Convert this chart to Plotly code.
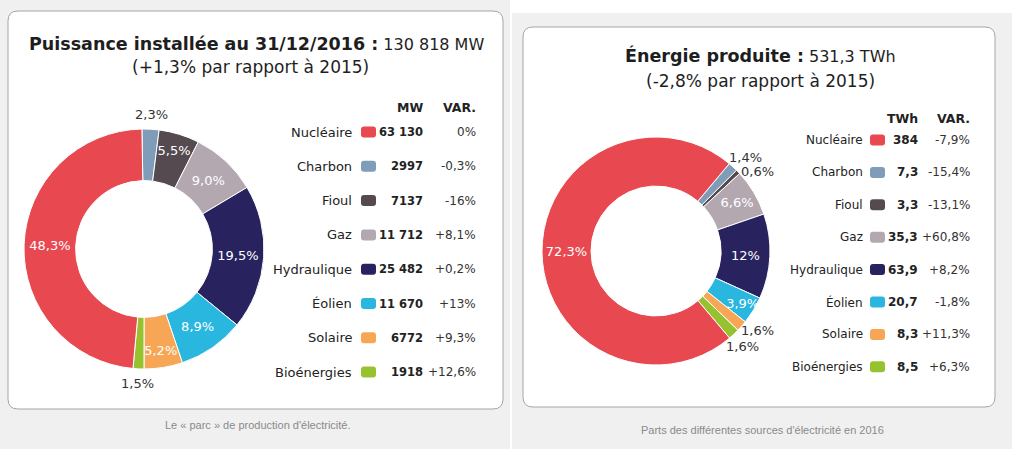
import math
import plotly.graph_objects as go

W, H = 1024, 449

# ---------------- data ----------------
sources = ["Nucléaire", "Charbon", "Fioul", "Gaz", "Hydraulique", "Éolien", "Solaire", "Bioénergies"]
colors = ["#e8484f", "#7f9db8", "#544a4f", "#b4a8b0", "#28235f", "#29b6df", "#f6a654", "#97c230"]

# Puissance installée (MW) au 31/12/2016
mw_values = [63130, 2997, 7137, 11712, 25482, 11670, 6772, 1918]
mw_labels = ["63 130", "2997", "7137", "11 712", "25 482", "11 670", "6772", "1918"]
mw_var = ["0%", "-0,3%", "-16%", "+8,1%", "+0,2%", "+13%", "+9,3%", "+12,6%"]
mw_share = ["48,3%", "2,3%", "5,5%", "9,0%", "19,5%", "8,9%", "5,2%", "1,5%"]

# Énergie produite (TWh) en 2016
twh_values = [384, 7.3, 3.3, 35.3, 63.9, 20.7, 8.3, 8.5]
twh_labels = ["384", "7,3", "3,3", "35,3", "63,9", "20,7", "8,3", "8,5"]
twh_var = ["-7,9%", "-15,4%", "-13,1%", "+60,8%", "+8,2%", "-1,8%", "+11,3%", "+6,3%"]
twh_share = ["72,3%", "1,4%", "0,6%", "6,6%", "12%", "3,9%", "1,6%", "1,6%"]

# ---------------- presentation ----------------
# clockwise drawing order starting after Nucléaire
pie_order = [1, 2, 3, 4, 5, 6, 7, 0]
# labels drawn outside the ring: source index -> angular nudge (degrees)
mw_outside = {1: 0.0, 7: 0.0}
twh_outside = {1: 1.3, 2: 6.0, 6: -3.0, 7: 1.0}

FONT = "DejaVu Sans, Verdana, sans-serif"
CAPFONT = "Liberation Sans Narrow, Arial Narrow, Liberation Sans, sans-serif"


def px(x):
    return x / W


def py(y):
    return 1 - y / H


def rrect(x0, y0, x1, y1, r):
    return (
        f"M {px(x0 + r)},{py(y0)} L {px(x1 - r)},{py(y0)} "
        f"Q {px(x1)},{py(y0)} {px(x1)},{py(y0 + r)} L {px(x1)},{py(y1 - r)} "
        f"Q {px(x1)},{py(y1)} {px(x1 - r)},{py(y1)} L {px(x0 + r)},{py(y1)} "
        f"Q {px(x0)},{py(y1)} {px(x0)},{py(y1 - r)} L {px(x0)},{py(y0 + r)} "
        f"Q {px(x0)},{py(y0)} {px(x0 + r)},{py(y0)} Z"
    )


fig = go.Figure()
annotations = []
shapes = []


def ann(x, y, text, size, color="#222222", anchor="center", family=FONT):
    annotations.append(dict(x=px(x), y=py(y), xref="paper", yref="paper", text=text, showarrow=False,
                            xanchor=anchor, yanchor="middle", font=dict(family=family, size=size, color=color)))


def add_pie(values, shares, outside, cx, cy, r, rotation):
    fig.add_trace(go.Pie(
        labels=[sources[i] for i in pie_order],
        values=[values[i] for i in pie_order],
        text=[shares[i] for i in pie_order],
        textposition=["none" if i in outside else "inside" for i in pie_order],
        textinfo="text",
        marker=dict(colors=[colors[i] for i in pie_order], line=dict(color="white", width=1)),
        hole=0.57,
        sort=False,
        direction="clockwise",
        rotation=rotation,
        insidetextorientation="horizontal",
        insidetextfont=dict(color="white", family=FONT, size=13),
        domain=dict(x=[px(cx - r), px(cx + r)], y=[py(cy + r), py(cy - r)]),
        showlegend=False,
        hoverinfo="skip",
    ))
    # outside labels placed on the slice's mid-angle, just beyond the ring
    total = sum(values)
    cum = 0.0
    for i in pie_order:
        v = values[i]
        if i in outside:
            ang = math.radians(rotation + 360.0 * (cum + v / 2) / total + outside[i])
            R = r + 15
            ann(cx + R * math.sin(ang), cy - R * math.cos(ang), shares[i], 13, "#333333")
        cum += v


add_pie(mw_values, mw_share, mw_outside, 144, 249, 120, -1)
add_pie(twh_values, twh_share, twh_outside, 656, 251, 114, 40)

# backgrounds
shapes.append(dict(type="rect", xref="paper", yref="paper", x0=px(0), x1=px(510), y0=py(449), y1=py(0),
                   fillcolor="#f0f0f0", line=dict(width=0), layer="below"))
shapes.append(dict(type="rect", xref="paper", yref="paper", x0=px(512), x1=px(1012), y0=py(449), y1=py(13),
                   fillcolor="#f0f0f0", line=dict(width=0), layer="below"))
# cards
shapes.append(dict(type="path", xref="paper", yref="paper", path=rrect(8, 11, 503, 409, 10),
                   fillcolor="white", line=dict(color="#a5a5a5", width=1), layer="below"))
shapes.append(dict(type="path", xref="paper", yref="paper", path=rrect(523, 27, 995, 407, 10),
                   fillcolor="white", line=dict(color="#a5a5a5", width=1), layer="below"))

# titles
ann(256, 44, "<b>Puissance installée au 31/12/2016 :</b><span style='font-size:16px'> 130 818 MW</span>", 17.5, "#1e1e1e")
ann(250, 67, "(+1,3% par rapport à 2015)", 17, "#1e1e1e")
ann(760, 55, "<b>Énergie produite :</b><span style='font-size:16px'> 531,3 TWh</span>", 17.5, "#1e1e1e")
ann(760, 81, "(-2,8% par rapport à 2015)", 17, "#1e1e1e")


def table(lab_x, sw_x0, sw_x1, val_x, var_x, head_y, row0, dy, unit, vals, vars_, lab_size, val_size):
    ann(val_x, head_y, f"<b>{unit}</b>", 12.5, anchor="right")
    ann(var_x, head_y, "<b>VAR.</b>", 12.5, anchor="right")
    for i, name in enumerate(sources):
        y = row0 + i * dy
        ann(lab_x, y, name, lab_size, anchor="right")
        ann(val_x, y, f"<b>{vals[i]}</b>", val_size, anchor="right")
        ann(var_x, y, vars_[i], 12, color="#333333", anchor="right")
        shapes.append(dict(type="path", xref="paper", yref="paper",
                           path=rrect(sw_x0, y - 5.5, sw_x1, y + 5.5, 3),
                           fillcolor=colors[i], line=dict(width=0)))


table(354, 361, 376, 425, 478, 107, 132, 34.3, "MW", mw_labels, mw_var, 13, 11.5)
table(865, 870, 885, 920, 972, 119, 140, 32.4, "TWh", twh_labels, twh_var, 12, 12)

# captions
ann(258, 425, "Le « parc » de production d'électricité.", 11, "#8a8a8a", family=CAPFONT)
ann(762, 430, "Parts des différentes sources d'électricité en 2016", 11, "#8a8a8a", family=CAPFONT)

fig.update_layout(
    width=W, height=H,
    margin=dict(l=0, r=0, t=0, b=0),
    paper_bgcolor="white",
    plot_bgcolor="white",
    shapes=shapes,
    annotations=annotations,
    uniformtext=dict(mode="show", minsize=13),
    showlegend=False,
)

fig.write_html("out.html", config={"displayModeBar": False},
               post_script="document.body.style.margin='0px';")
